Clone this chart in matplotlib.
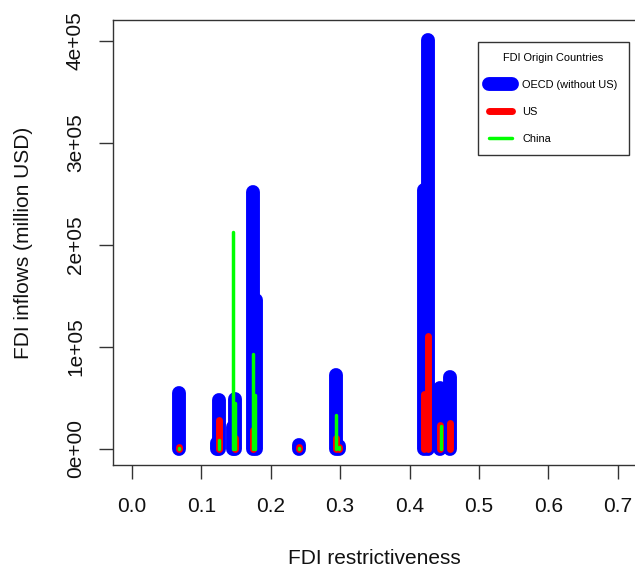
import matplotlib
matplotlib.use('Agg')
import matplotlib.pyplot as plt
from matplotlib.lines import Line2D

plt.rcParams['font.family'] = ['Liberation Sans', 'DejaVu Sans']

# FDI restrictiveness (x) and inflows in million USD (y) per origin group
oecd_x = [0.067, 0.123, 0.125, 0.145, 0.149, 0.174, 0.178, 0.240, 0.294, 0.299, 0.421, 0.427, 0.444, 0.458]
oecd_y = [54000, 5000, 48000, 21000, 49000, 252000, 146000, 3000, 72000, 2000, 253000, 401000, 59000, 70000]

us_x = [0.067, 0.125, 0.148, 0.174, 0.240, 0.294, 0.299, 0.421, 0.427, 0.444, 0.458]
us_y = [1500, 28000, 10000, 18000, 1000, 10000, 1500, 53000, 110000, 23000, 25000]

china_x = [0.067, 0.125, 0.146, 0.149, 0.174, 0.177, 0.240, 0.294, 0.299, 0.445]
china_y = [500, 8000, 212000, 45000, 93000, 52000, 500, 33000, 1000, 22000]

x_ticks = [0.0, 0.1, 0.2, 0.3, 0.4, 0.5, 0.6, 0.7]
x_tick_labels = ['0.0', '0.1', '0.2', '0.3', '0.4', '0.5', '0.6', '0.7']
y_ticks = [0, 100000, 200000, 300000, 400000]
y_tick_labels = ['0e+00', '1e+05', '2e+05', '3e+05', '4e+05']

legend_labels = ['OECD (without US)', 'US', 'China']
colors = ['#0000FF', '#FF0000', '#00FF00']
widths = [10, 5, 2.5]

W, H = 635, 572
fig = plt.figure(figsize=(W / 100, H / 100), dpi=100)
ax = fig.add_axes([112.7 / W, (H - 465) / H, (637 - 112.7) / W, 445 / H])

ax.vlines(oecd_x, 0, oecd_y, colors=colors[0], linewidth=widths[0], capstyle='round', zorder=2)
ax.vlines(us_x, 0, us_y, colors=colors[1], linewidth=widths[1], capstyle='round', zorder=3)
ax.vlines(china_x, 0, china_y, colors=colors[2], linewidth=widths[2], capstyle='round', zorder=4)

ax.set_xlim(-0.028, 0.728)
ax.set_ylim(-16160, 420160)
ax.set_xticks(x_ticks)
ax.set_xticklabels(x_tick_labels)
ax.set_yticks(y_ticks)
ax.set_yticklabels(y_tick_labels, rotation=90, va='center')

for s in ax.spines.values():
    s.set_color('#333333')
    s.set_linewidth(1.0)
ax.tick_params(axis='both', direction='out', length=10, width=1.0, color='#333333',
               labelsize=15, labelcolor='#111111')
ax.tick_params(axis='x', pad=13)
ax.tick_params(axis='y', pad=10)

ax.set_xlabel('FDI restrictiveness', fontsize=15, color='#111111')
ax.set_ylabel('FDI inflows (million USD)', fontsize=15, color='#111111')
ax.xaxis.label.set_va('center')
ax.yaxis.label.set_va('center')
ax.xaxis.set_label_coords(0.5, (465 - 558) / 445)
ax.yaxis.set_label_coords((23 - 112.7) / 524.3, 0.5)

handles = [Line2D([], [], color=c, lw=w, solid_capstyle='round') for c, w in zip(colors, widths)]
leg = ax.legend(handles, legend_labels, title='FDI Origin Countries',
                loc='upper left', bbox_to_anchor=(478 / W, 1 - 42 / H),
                bbox_transform=fig.transFigure, fontsize=7.9, title_fontsize=7.9,
                frameon=True, fancybox=False, edgecolor='#333333', framealpha=1,
                borderpad=1.0, labelspacing=1.55, handlelength=2.1,
                handletextpad=0.95, borderaxespad=0)
leg.get_frame().set_linewidth(1.0)

fig.savefig('out.png', dpi=100)
